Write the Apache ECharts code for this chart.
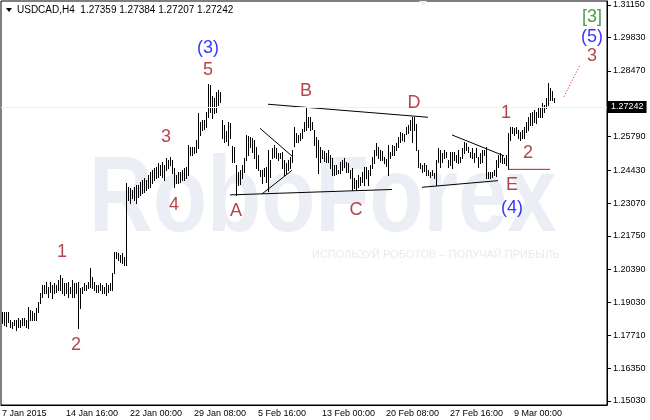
<!DOCTYPE html>
<html><head><meta charset="utf-8">
<script src="https://cdn.jsdelivr.net/npm/echarts@6/dist/echarts.min.js"></script>
<style>html,body{margin:0;padding:0;background:#fff}#c{width:650px;height:420px}</style>
</head><body><div id="c"></div>
<script>
// ---------- data ----------
const symbolName = 'USDCAD,H4';
const headerQuote = ['1.27359', '1.27384', '1.27207', '1.27242'];
const lastPrice = 1.27242;
const xTickLabels = ['7 Jan 2015', '14 Jan 16:00', '22 Jan 00:00', '29 Jan 08:00', '5 Feb 16:00',
  '13 Feb 00:00', '20 Feb 08:00', '27 Feb 16:00', '9 Mar 00:00'];
const yTickValues = [1.15030, 1.16350, 1.17710, 1.19030, 1.20390, 1.21750, 1.23070, 1.24430,
  1.25790, 1.28470, 1.29830, 1.31150];
const barHigh = [
  1.1865,1.1865,1.1865,1.1865,1.1833,1.1825,1.1833,1.1833,1.1841,1.1833,
  1.1841,1.1841,1.1833,1.1885,1.1873,1.1869,1.1861,1.1881,1.1906,1.1943,
  1.1975,1.1975,1.1987,1.1967,1.1987,1.1975,1.1983,1.1975,1.1996,1.2016,
  1.2004,1.1983,1.1983,1.1987,1.1967,1.1996,1.1983,1.1983,1.1987,1.1963,
  1.1967,1.1983,1.1975,1.1987,1.2044,1.2008,1.1987,1.1975,1.1975,1.1983,
  1.1975,1.1967,1.1983,1.1975,1.1983,1.2024,1.2110,1.2110,1.2106,1.2097,
  1.2106,1.2089,1.2390,1.2374,1.2370,1.2362,1.2374,1.2382,1.2382,1.2394,
  1.2403,1.2411,1.2403,1.2423,1.2435,1.2443,1.2451,1.2456,1.2472,1.2464,
  1.2476,1.2464,1.2492,1.2484,1.2496,1.2484,1.2451,1.2423,1.2435,1.2435,
  1.2443,1.2451,1.2456,1.2545,1.2537,1.2537,1.2537,1.2565,1.2675,1.2639,
  1.2647,1.2647,1.2679,1.2793,1.2789,1.2745,1.2736,1.2761,1.2769,1.2761,
  1.2647,1.2627,1.2602,1.2639,1.2635,1.2541,1.2537,1.2464,1.2435,1.2443,
  1.2464,1.2492,1.2586,1.2582,1.2578,1.2574,1.2565,1.2537,1.2504,1.2443,
  1.2443,1.2451,1.2456,1.2525,1.2484,1.2533,1.2545,1.2533,1.2513,1.2513,
  1.2517,1.2484,1.2472,1.2484,1.2496,1.2525,1.2618,1.2594,1.2586,1.2594,
  1.2610,1.2639,1.2696,1.2659,1.2659,1.2639,1.2606,1.2578,1.2565,1.2537,
  1.2525,1.2521,1.2513,1.2525,1.2504,1.2492,1.2464,1.2464,1.2443,1.2476,
  1.2484,1.2492,1.2476,1.2472,1.2443,1.2451,1.2411,1.2403,1.2423,1.2415,
  1.2435,1.2456,1.2456,1.2443,1.2464,1.2496,1.2525,1.2553,1.2537,1.2525,
  1.2521,1.2496,1.2488,1.2545,1.2517,1.2545,1.2541,1.2553,1.2578,1.2598,
  1.2594,1.2590,1.2618,1.2627,1.2647,1.2659,1.2659,1.2631,1.2525,1.2472,
  1.2464,1.2472,1.2464,1.2443,1.2435,1.2443,1.2431,1.2484,1.2533,1.2525,
  1.2513,1.2525,1.2517,1.2484,1.2517,1.2517,1.2517,1.2504,1.2525,1.2496,
  1.2533,1.2557,1.2553,1.2537,1.2517,1.2533,1.2513,1.2533,1.2496,1.2513,
  1.2525,1.2525,1.2537,1.2435,1.2435,1.2435,1.2443,1.2484,1.2504,1.2513,
  1.2504,1.2492,1.2504,1.2594,1.2618,1.2618,1.2614,1.2618,1.2606,1.2598,
  1.2606,1.2618,1.2639,1.2659,1.2675,1.2679,1.2688,1.2679,1.2700,1.2700,
  1.2716,1.2708,1.2736,1.2798,1.2777,1.2765,1.27384];
const barLow = [
  1.1820,1.1812,1.1808,1.1825,1.1804,1.1800,1.1812,1.1792,1.1804,1.1804,
  1.1812,1.1812,1.1804,1.1800,1.1833,1.1833,1.1833,1.1833,1.1865,1.1902,
  1.1926,1.1943,1.1943,1.1926,1.1947,1.1922,1.1943,1.1947,1.1955,1.1955,
  1.1943,1.1934,1.1943,1.1926,1.1943,1.1926,1.1926,1.1943,1.1800,1.1881,
  1.1943,1.1955,1.1955,1.1963,1.1967,1.1963,1.1955,1.1947,1.1947,1.1955,
  1.1943,1.1943,1.1934,1.1947,1.1955,1.1955,1.2024,1.2085,1.2077,1.2069,
  1.2065,1.2057,1.2057,1.2321,1.2309,1.2329,1.2321,1.2309,1.2333,1.2342,
  1.2350,1.2354,1.2362,1.2370,1.2374,1.2390,1.2403,1.2411,1.2415,1.2423,
  1.2415,1.2403,1.2443,1.2451,1.2464,1.2431,1.2374,1.2390,1.2390,1.2394,
  1.2403,1.2403,1.2411,1.2423,1.2504,1.2504,1.2513,1.2517,1.2533,1.2586,
  1.2606,1.2610,1.2618,1.2659,1.2679,1.2655,1.2675,1.2679,1.2708,1.2720,
  1.2574,1.2557,1.2561,1.2545,1.2574,1.2476,1.2476,1.2342,1.2382,1.2386,
  1.2411,1.2435,1.2484,1.2504,1.2537,1.2517,1.2492,1.2451,1.2443,1.2419,
  1.2390,1.2419,1.2394,1.2358,1.2415,1.2492,1.2496,1.2492,1.2484,1.2492,
  1.2451,1.2423,1.2431,1.2443,1.2451,1.2476,1.2541,1.2557,1.2557,1.2565,
  1.2574,1.2602,1.2606,1.2618,1.2606,1.2610,1.2545,1.2496,1.2431,1.2476,
  1.2492,1.2480,1.2476,1.2476,1.2451,1.2423,1.2423,1.2427,1.2431,1.2431,
  1.2443,1.2456,1.2435,1.2435,1.2411,1.2362,1.2370,1.2362,1.2374,1.2382,
  1.2394,1.2382,1.2411,1.2382,1.2423,1.2451,1.2472,1.2504,1.2492,1.2484,
  1.2484,1.2472,1.2460,1.2423,1.2492,1.2504,1.2504,1.2525,1.2537,1.2557,
  1.2565,1.2561,1.2590,1.2594,1.2606,1.2557,1.2606,1.2525,1.2456,1.2451,
  1.2435,1.2439,1.2423,1.2423,1.2415,1.2423,1.2411,1.2382,1.2476,1.2456,
  1.2476,1.2492,1.2496,1.2456,1.2464,1.2451,1.2484,1.2476,1.2472,1.2476,
  1.2492,1.2513,1.2525,1.2517,1.2496,1.2492,1.2476,1.2496,1.2456,1.2472,
  1.2476,1.2504,1.2411,1.2411,1.2411,1.2415,1.2423,1.2419,1.2456,1.2476,
  1.2472,1.2472,1.2464,1.2447,1.2565,1.2594,1.2586,1.2594,1.2574,1.2565,
  1.2574,1.2574,1.2598,1.2606,1.2627,1.2627,1.2639,1.2635,1.2659,1.2659,
  1.2659,1.2679,1.2696,1.2708,1.2728,1.2728,1.27207];
// trend lines: [[barIndex, price], [barIndex, price]]
const trendLines = [
  [[114, 1.2342], [195, 1.2364]],   // A - C
  [[133, 1.2711], [213, 1.2658]],   // B - D
  [[129, 1.2613], [145, 1.2500]],   // small triangle, upper
  [[130, 1.2346], [145, 1.2442]],   // small triangle, lower
  [[225, 1.2586], [251, 1.2501]],   // E triangle, upper
  [[210, 1.2373], [248, 1.2400]]    // E triangle, lower
];
const eLevel = [[253, 1.2446], [274, 1.2446]];
const projection = [[281, 1.2742], [289, 1.2871]];
// wave labels: text, bar index, price, degree
const waveText   = ['(3)', '5', '3', '4', '1', '2', 'A', 'B', 'C', 'D', 'E', '(4)', '1', '2', '[3]', '(5)', '3'];
const waveIndex  = [103, 103, 82, 86, 30, 37, 117, 152, 177, 206, 255, 255, 252, 263, 295, 295, 295];
const wavePrice  = [1.2939, 1.2850, 1.2579, 1.2301, 1.2108, 1.1729, 1.2276, 1.2764, 1.2281, 1.2716,
  1.2382, 1.2287, 1.2674, 1.2514, 1.3067, 1.2985, 1.2906];
const waveDegree = ['int', 'min', 'min', 'min', 'min', 'min', 'min', 'min', 'min', 'min', 'min', 'int', 'min', 'min', 'pri', 'int', 'min'];

// ---------- build ----------
const SLOTS = 303;
const MONTHS = ['Jan', 'Feb', 'Mar'];
const categories = [];
(function () {
  let t = Date.UTC(2015, 0, 7, 8);
  while (categories.length < SLOTS) {
    const d = new Date(t);
    const wd = d.getUTCDay();
    if (wd !== 0 && wd !== 6) {
      categories.push(d.getUTCDate() + ' ' + MONTHS[d.getUTCMonth()] + ' ' +
        String(d.getUTCHours()).padStart(2, '0') + ':00');
    }
    t += 4 * 3600 * 1000;
  }
})();
const ohlc = barHigh.map((h, i) => [i, h, barLow[i]]);
const degreeColor = { pri: '#1a861a', int: '#0000ff', min: '#a5141e' };
const FONT = '"Liberation Sans", Arial, sans-serif';

const series = [];
series.push({
  type: 'custom', name: 'bars', z: 3, silent: true, animation: false,
  data: ohlc, encode: { x: 0, y: [1, 2] },
  renderItem: function (params, api) {
    const top = api.coord([api.value(0), api.value(1)]);
    const bot = api.coord([api.value(0), api.value(2)]);
    const x = Math.round(top[0]) + 0.5;
    return { type: 'line', shape: { x1: x, y1: Math.round(top[1]), x2: x, y2: Math.round(bot[1]) + 1 },
      style: { stroke: '#000', lineWidth: 1 } };
  },
  markLine: {
    silent: true, symbol: 'none', animation: false,
    lineStyle: { color: '#f1f1f1', type: 'solid', width: 1 },
    label: { position: 'end', formatter: lastPrice.toFixed(5), color: '#fff', backgroundColor: '#000',
      padding: [2, 3, 1, 3], fontSize: 9, fontFamily: FONT, distance: 1 },
    data: [{ yAxis: lastPrice }]
  }
});
trendLines.forEach(seg => series.push({
  type: 'line', data: seg, symbol: 'none', silent: true, animation: false, z: 4,
  lineStyle: { color: '#000', width: 1 }
}));
series.push({ type: 'line', data: eLevel, symbol: 'none', silent: true, animation: false, z: 4,
  lineStyle: { color: '#ff0000', width: 1 } });
series.push({ type: 'line', data: projection, symbol: 'none', silent: true, animation: false, z: 4,
  lineStyle: { color: '#ff0000', width: 1, type: [1, 2] } });
series.push({
  type: 'scatter', silent: true, animation: false, z: 5, symbolSize: 1,
  itemStyle: { color: 'rgba(0,0,0,0)' },
  data: waveText.map((t, k) => ({
    value: [waveIndex[k], wavePrice[k]],
    label: { show: true, position: 'inside', formatter: t, color: degreeColor[waveDegree[k]],
      fontSize: 18, fontFamily: FONT }
  }))
});

const chart = echarts.init(document.getElementById('c'), null, { renderer: 'canvas' });
chart.setOption({
  animation: false,
  backgroundColor: '#fff',
  grid: { left: 1, right: 43, top: 1, bottom: 15, show: true, borderColor: '#000', borderWidth: 1,
    containLabel: false, outerBoundsMode: 'none' },
  xAxis: {
    type: 'category', data: categories, boundaryGap: true,
    axisLine: { lineStyle: { color: '#000', width: 1 } },
    axisTick: { alignWithLabel: true, length: 4, lineStyle: { color: '#000' }, interval: (i) => i % 32 === 0 },
    axisLabel: { interval: (i) => i % 32 === 0, align: 'left', margin: 4, color: '#000', fontSize: 9,
      fontFamily: FONT, formatter: (v, i) => xTickLabels[i / 32] || '' },
    splitLine: { show: false }
  },
  yAxis: {
    type: 'value', position: 'right', min: 1.14867, max: 1.31313, scale: true,
    axisLine: { show: true, lineStyle: { color: '#000', width: 1 } },
    axisTick: { show: true, length: 4, lineStyle: { color: '#000' }, customValues: yTickValues },
    axisLabel: { margin: 6, color: '#000', fontSize: 9, fontFamily: FONT, customValues: yTickValues,
      formatter: v => v.toFixed(5) },
    splitLine: { show: false }
  },
  graphic: [
    { type: 'text', silent: true, z: -10, x: 89, y: 201, scaleX: 0.82,
      style: { text: 'RoboForex', font: 'bold 108px ' + FONT, fill: '#ebeef4', align: 'left', verticalAlign: 'middle' } },
    { type: 'text', silent: true, z: -10, x: 312, y: 255,
      style: { text: 'ИСПОЛЬЗУЙ РОБОТОВ – ПОЛУЧАЙ ПРИБЫЛЬ', font: '11px ' + FONT, fill: '#e6eaf0', align: 'left', verticalAlign: 'middle' } },
    { type: 'polygon', silent: true, shape: { points: [[6, 8], [12, 8], [9, 12]] }, style: { fill: '#000' } },
    { type: 'polygon', silent: true, shape: { points: [[419, 1], [427, 1], [423, 6]] }, style: { fill: '#eeeeee' } },
    { type: 'text', silent: true, x: 17, y: 10,
      style: { text: symbolName + '  ' + headerQuote.join(' '), font: '10px ' + FONT, fill: '#000', verticalAlign: 'middle' } }
  ],
  series: series
});
</script></body></html>
